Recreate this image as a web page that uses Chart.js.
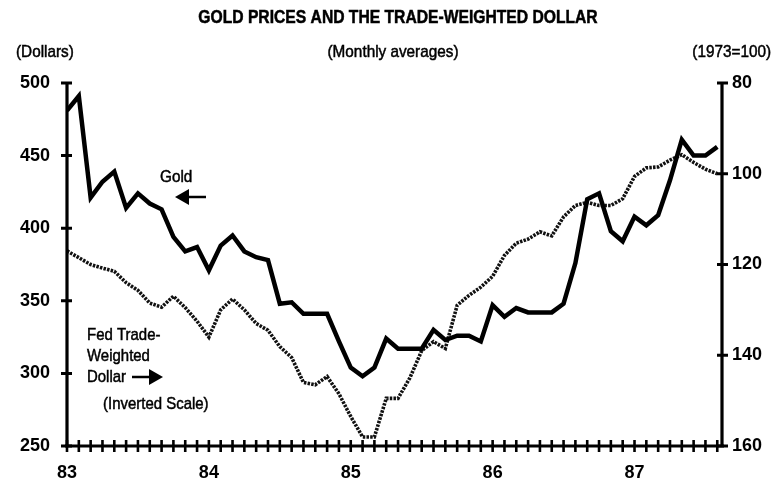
<!DOCTYPE html>
<html>
<head>
<meta charset="utf-8">
<script src="https://cdn.jsdelivr.net/npm/chart.js@4.4.1/dist/chart.umd.min.js"></script>
<style>
  html, body { margin: 0; padding: 0; background: #fff; }
  #wrap { width: 781px; height: 485px; position: relative; }
</style>
</head>
<body>
<div id="wrap"><canvas id="chart"></canvas></div>
<script>
// monthly averages, Jan 1983 .. Aug 1987 (index 0 = Jan 83)
var yearLabels = ['83', '84', '85', '86', '87'];

// gold price, dollars (left scale)
var gold = [
  481, 491, 421, 432, 439, 414, 424, 417, 413, 394, 384, 387,
  371, 388, 395, 384, 380, 378, 348, 349, 341, 341, 341, 322,
  304, 298, 304, 324, 317, 317, 317, 330, 323, 326, 326, 322,
  347, 339, 345, 342, 342, 342, 348, 376, 420, 424, 398, 391,
  408, 402, 409, 433, 461, 450, 450, 456
];

// Fed trade-weighted dollar, 1973=100 (right scale, inverted)
var dollar = [
  117, 118.5, 120, 120.8, 121.5, 124, 125.7, 128.5, 129.4, 127, 129.5, 132.5,
  136, 130, 127.6, 130, 133, 134.5, 138.1, 140.5, 146, 146.5, 144.7, 148.5,
  153.5, 158, 158, 149.5, 149.5, 145, 139, 137, 138.5, 129, 126.8, 125,
  122.6, 118, 115.3, 114.4, 112.8, 113.7, 109.5, 107, 106.3, 107, 107, 105.5,
  100.6, 98.7, 98.5, 97, 95.8, 97.5, 99, 100
];

var FONT = '"Liberation Sans Narrow", "Arial Narrow", "Liberation Sans", sans-serif';

function toPoints(arr) {
  return arr.map(function (v, i) { return { x: i, y: v }; });
}

// tick marks that cross the axis lines, like the original
var crossTicks = {
  id: 'crossTicks',
  afterDraw: function (chart) {
    var ctx = chart.ctx;
    var a = chart.chartArea;
    var sx = chart.scales.x, yl = chart.scales.y, yr = chart.scales.y2;
    ctx.save();
    ctx.strokeStyle = '#000';
    ctx.lineCap = 'butt';

    // axis lines
    ctx.lineWidth = 3.2;
    ctx.beginPath();
    ctx.moveTo(a.left, a.top); ctx.lineTo(a.left, a.bottom);
    ctx.moveTo(a.right, a.top); ctx.lineTo(a.right, a.bottom);
    ctx.moveTo(a.left - 2, a.bottom); ctx.lineTo(a.right + 2, a.bottom);
    ctx.stroke();

    // month ticks
    ctx.lineWidth = 2.6;
    ctx.beginPath();
    sx.ticks.forEach(function (t) {
      if (t.value % 1 !== 0) return;
      var px = sx.getPixelForValue(t.value);
      ctx.moveTo(px, a.bottom - 6); ctx.lineTo(px, a.bottom + 6);
    });
    ctx.stroke();

    // value ticks
    ctx.lineWidth = 3;
    ctx.beginPath();
    yl.ticks.forEach(function (t) {
      var py = yl.getPixelForValue(t.value);
      ctx.moveTo(a.left - 6, py); ctx.lineTo(a.left + 5, py);
    });
    yr.ticks.forEach(function (t) {
      var py = yr.getPixelForValue(t.value);
      ctx.moveTo(a.right - 5, py); ctx.lineTo(a.right + 6, py);
    });
    ctx.stroke();
    ctx.restore();
  }
};

function arrow(ctx, tipX, tailX, y) {
  var dir = tailX > tipX ? 1 : -1;
  ctx.beginPath();
  ctx.moveTo(tipX + dir * 12, y);
  ctx.lineTo(tailX, y);
  ctx.lineWidth = 2.5;
  ctx.stroke();
  ctx.beginPath();
  ctx.moveTo(tipX, y);
  ctx.lineTo(tipX + dir * 14, y - 8);
  ctx.lineTo(tipX + dir * 14, y + 8);
  ctx.closePath();
  ctx.fill();
}

// condensed text: squeeze horizontally to mimic the narrow typeface,
// with a hairline stroke to get the heavier printed look
function narrowText(ctx, text, x, y, align, sx) {
  ctx.save();
  ctx.translate(x, y);
  ctx.scale(sx, 1);
  ctx.textAlign = align;
  ctx.lineWidth = 0.5;
  ctx.fillText(text, 0, 0);
  ctx.strokeText(text, 0, 0);
  ctx.restore();
}

// titles and in-chart notes
var notes = {
  id: 'notes',
  afterDraw: function (chart) {
    var ctx = chart.ctx;
    ctx.save();
    ctx.fillStyle = '#000';
    ctx.strokeStyle = '#000';
    ctx.textBaseline = 'middle';

    ctx.font = 'bold 18px ' + FONT;
    narrowText(ctx, 'GOLD PRICES AND THE TRADE-WEIGHTED DOLLAR', 398, 18, 'center', 0.87);

    ctx.font = '17px ' + FONT;
    narrowText(ctx, '(Monthly averages)', 393, 52, 'center', 0.9);
    narrowText(ctx, '(Dollars)', 16, 52, 'left', 0.9);
    narrowText(ctx, '(1973=100)', 771, 52, 'right', 0.9);

    narrowText(ctx, 'Gold', 160, 177, 'left', 0.9);
    narrowText(ctx, 'Fed Trade-', 87, 335, 'left', 0.88);
    narrowText(ctx, 'Weighted', 87, 356, 'left', 0.88);
    narrowText(ctx, 'Dollar', 87, 377, 'left', 0.88);
    narrowText(ctx, '(Inverted Scale)', 103, 404, 'left', 0.88);

    arrow(ctx, 175, 206, 197);
    arrow(ctx, 163, 132, 377);
    ctx.restore();
  }
};

new Chart(document.getElementById('chart'), {
  type: 'line',
  data: {
    datasets: [{
      label: 'Gold',
      data: toPoints(gold),
      yAxisID: 'y',
      borderColor: '#000',
      borderWidth: 4.5,
      pointRadius: 0,
      tension: 0,
      borderJoinStyle: 'miter'
    }, {
      label: 'Dollar',
      data: toPoints(dollar),
      yAxisID: 'y2',
      borderColor: '#111',
      borderWidth: 3.6,
      borderDash: [2.5, 1.2],
      pointRadius: 0,
      tension: 0
    }]
  },
  options: {
    responsive: true,
    maintainAspectRatio: false,
    animation: false,
    layout: { padding: { top: 83, left: 0, right: 0, bottom: 0 } },
    plugins: { legend: { display: false }, tooltip: { enabled: false } },
    scales: {
      x: {
        type: 'linear',
        min: 0,
        max: 55.4,
        grid: { display: false, drawTicks: false },
        border: { display: false },
        afterFit: function (s) { s.height = 39; },
        ticks: {
          stepSize: 1,
          includeBounds: false,
          autoSkip: false,
          maxRotation: 0,
          padding: 16,
          color: '#000',
          font: { family: FONT, size: 18, weight: 'bold' },
          callback: function (v) {
            return v % 12 === 0 ? yearLabels[v / 12] : '';
          }
        }
      },
      y: {
        position: 'left',
        min: 250,
        max: 500,
        grid: { display: false, drawTicks: false },
        border: { display: false },
        afterFit: function (s) { s.width = 67; },
        ticks: {
          stepSize: 50,
          padding: 17,
          color: '#000',
          font: { family: FONT, size: 18, weight: 'bold' }
        }
      },
      y2: {
        position: 'right',
        min: 80,
        max: 160,
        reverse: true,
        grid: { display: false, drawTicks: false },
        border: { display: false },
        afterFit: function (s) { s.width = 59; },
        ticks: {
          stepSize: 20,
          padding: 10,
          color: '#000',
          font: { family: FONT, size: 18, weight: 'bold' }
        }
      }
    }
  },
  plugins: [crossTicks, notes]
});
</script>
</body>
</html>
